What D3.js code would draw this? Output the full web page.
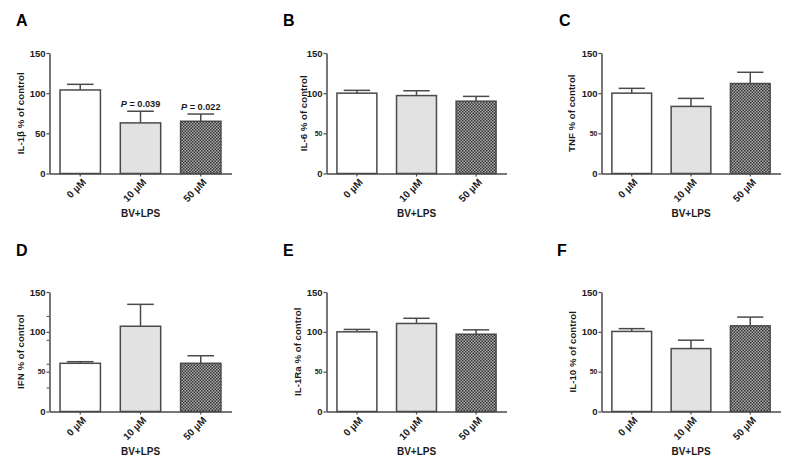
<!DOCTYPE html>
<html>
<head>
<meta charset="utf-8">
<script src="https://cdn.jsdelivr.net/npm/d3@7"></script>
<style>
  html, body { margin: 0; padding: 0; background: #fff; }
  svg { display: block; font-family: Arial, "Liberation Sans", sans-serif; }
</style>
</head>
<body>
<svg id="chart" width="800" height="465"></svg>
<script>
// ---------- data ----------
const categories = ["0 µM", "10 µM", "50 µM"];
const panelLetters = ["A", "B", "C", "D", "E", "F"];
const yTitles = ["IL-1β % of control", "IL-6 % of control", "TNF % of control",
                 "IFN % of control", "IL-1Ra % of control", "IL-10 % of control"];
const xTitle = "BV+LPS";
const yTicks = [0, 50, 100, 150];

const il1bMean = [104, 63, 65];    const il1bSem = [7, 14.5, 9];
const il6Mean  = [100, 97, 90];    const il6Sem  = [3.5, 6, 6];
const tnfMean  = [100, 83.5, 112]; const tnfSem  = [6, 10, 14];
const ifnMean  = [60.5, 107, 60.5]; const ifnSem = [2, 27.5, 9.5];
const il1raMean = [100, 110.5, 97]; const il1raSem = [3, 6.5, 5.5];
const il10Mean = [100.5, 79, 107.5]; const il10Sem = [3.5, 10.5, 11];

const pLabelsA = [null, "0.039", "0.022"];

const means = [il1bMean, il6Mean, tnfMean, ifnMean, il1raMean, il10Mean];
const sems  = [il1bSem, il6Sem, tnfSem, ifnSem, il1raSem, il10Sem];

// ---------- layout ----------
const layouts = [
  {x0: 49.5,  x1: 231.5, top: 53,  bottom: 173.5, letterX: 16,  letterY: 25,  titleOff: 29},
  {x0: 326.5, x1: 506.5, top: 53,  bottom: 173.5, letterX: 283, letterY: 25,  titleOff: 23},
  {x0: 601.5, x1: 780.5, top: 53,  bottom: 173.5, letterX: 559, letterY: 25,  titleOff: 30},
  {x0: 49.5,  x1: 231.5, top: 292, bottom: 411.5, letterX: 16,  letterY: 255, titleOff: 29},
  {x0: 326.5, x1: 506.5, top: 292, bottom: 411.5, letterX: 283, letterY: 255, titleOff: 29},
  {x0: 601.5, x1: 780.5, top: 292, bottom: 411.5, letterX: 557, letterY: 255, titleOff: 29}
];

const svg = d3.select("#chart");
const axisColor = "#4a4a4a";
const textColor = "#1a1a1a";

// checkerboard pattern
const defs = svg.append("defs");
const pat = defs.append("pattern").attr("id", "checker")
  .attr("patternUnits", "userSpaceOnUse").attr("width", 3).attr("height", 3);
pat.append("rect").attr("width", 3).attr("height", 3).attr("fill", "#ababab");
pat.append("rect").attr("width", 1.5).attr("height", 1.5).attr("fill", "#363636");
pat.append("rect").attr("x", 1.5).attr("y", 1.5).attr("width", 1.5).attr("height", 1.5).attr("fill", "#363636");

const fills = ["#ffffff", "#e2e2e2", "url(#checker)"];

layouts.forEach((L, i) => {
  const g = svg.append("g");
  const y = d3.scaleLinear().domain([0, 150]).range([L.bottom, L.top]);
  const x = d3.scaleBand().domain(categories).range([L.x0, L.x1])
    .paddingInner(0.33).paddingOuter(0.175);

  // panel letter
  g.append("text").attr("x", L.letterX).attr("y", L.letterY + 1)
    .attr("font-size", 16).attr("font-weight", "bold").attr("fill", "#000")
    .text(panelLetters[i]);

  // bars
  const data = categories.map((c, j) => ({c, m: means[i][j], s: sems[i][j], j}));
  g.selectAll("rect.bar").data(data).enter().append("rect")
    .attr("class", "bar")
    .attr("x", d => x(d.c))
    .attr("y", d => y(d.m))
    .attr("width", x.bandwidth())
    .attr("height", d => y(0) - y(d.m))
    .attr("fill", d => fills[d.j])
    .attr("stroke", axisColor).attr("stroke-width", 1.5);

  // error bars (upper only)
  const capW = x.bandwidth() * 0.66;
  data.forEach(d => {
    const cx = x(d.c) + x.bandwidth() / 2;
    g.append("line").attr("x1", cx).attr("x2", cx)
      .attr("y1", y(d.m)).attr("y2", y(d.m + d.s))
      .attr("stroke", axisColor).attr("stroke-width", 1.5);
    g.append("line").attr("x1", cx - capW / 2).attr("x2", cx + capW / 2)
      .attr("y1", y(d.m + d.s)).attr("y2", y(d.m + d.s))
      .attr("stroke", axisColor).attr("stroke-width", 1.5);
  });

  // y axis
  const yAxis = d3.axisLeft(y).tickValues(yTicks).tickSize(3).tickSizeOuter(0);
  const ya = g.append("g").attr("transform", `translate(${L.x0},0)`).call(yAxis);
  ya.select(".domain").attr("stroke", axisColor).attr("stroke-width", 1.5);
  ya.selectAll(".tick line").attr("stroke", axisColor).attr("stroke-width", 1.2);
  ya.selectAll(".tick text")
    .attr("font-family", "Arial, 'Liberation Sans', sans-serif")
    .attr("font-weight", "bold").attr("fill", textColor)
    .attr("font-size", d => (d === 50 && i > 0) ? 7 : 9.5)
    .attr("x", -4);
  if (i === 3) {
    const minor = d3.axisLeft(y).tickValues([30, 60, 90, 120]).tickSize(3).tickFormat("");
    const ym = g.append("g").attr("transform", `translate(${L.x0},0)`).call(minor);
    ym.select(".domain").remove();
    ym.selectAll(".tick line").attr("stroke", axisColor).attr("stroke-width", 1);
  }

  // x axis
  const xAxis = d3.axisBottom(x).tickSize(3).tickSizeOuter(0);
  const xa = g.append("g").attr("transform", `translate(0,${L.bottom})`).call(xAxis);
  xa.select(".domain").attr("stroke", axisColor).attr("stroke-width", 1.5);
  xa.selectAll(".tick line").attr("stroke", axisColor).attr("stroke-width", 1.2);
  xa.selectAll(".tick text")
    .attr("font-family", "Arial, 'Liberation Sans', sans-serif")
    .attr("font-weight", "bold").attr("fill", textColor).attr("font-size", 10)
    .attr("text-anchor", "end")
    .attr("transform", "translate(4,7) rotate(-45)")
    .attr("x", 0).attr("y", 0).attr("dy", "0.35em");

  // axis titles
  g.append("text")
    .attr("transform", `translate(${L.x0 - L.titleOff},${(L.top + L.bottom) / 2}) rotate(-90)`)
    .attr("text-anchor", "middle").attr("dy", "0.35em")
    .attr("font-size", 9.7).attr("font-weight", "bold").attr("fill", textColor)
    .text(yTitles[i]);
  g.append("text")
    .attr("x", (L.x0 + L.x1) / 2).attr("y", L.bottom + 43)
    .attr("text-anchor", "middle")
    .attr("font-size", 10).attr("font-weight", "bold").attr("fill", textColor)
    .text(xTitle);

  // p-values (panel A)
  if (i === 0) {
    data.forEach(d => {
      const p = pLabelsA[d.j];
      if (!p) return;
      const t = g.append("text")
        .attr("x", x(d.c) + x.bandwidth() / 2).attr("y", y(d.m + d.s) - 4)
        .attr("text-anchor", "middle")
        .attr("font-size", 9.2).attr("font-weight", "bold").attr("fill", textColor);
      t.append("tspan").attr("font-style", "italic").text("P");
      t.append("tspan").text(" = " + p);
    });
  }
});
</script>
</body>
</html>
